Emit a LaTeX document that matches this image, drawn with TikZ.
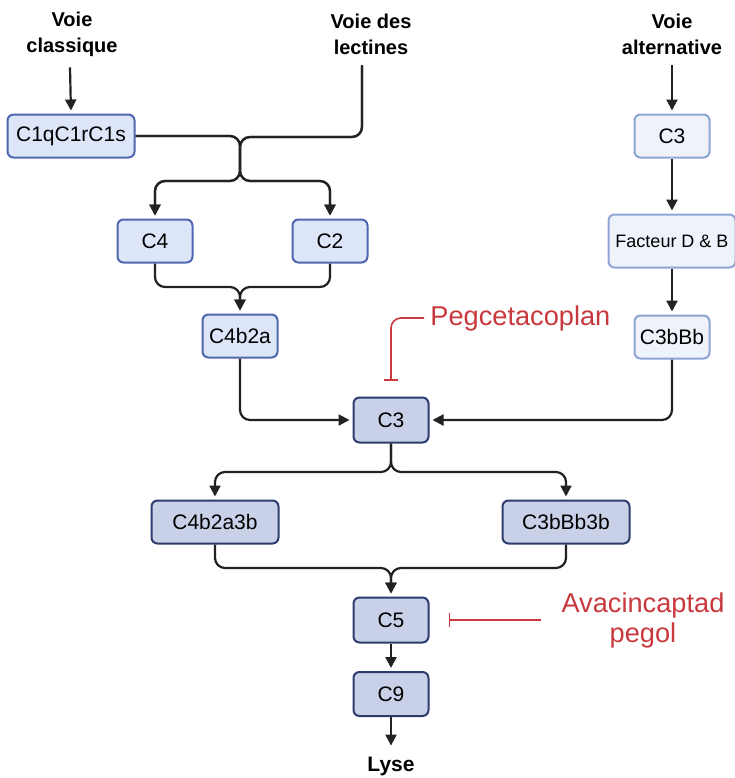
\documentclass[tikz,border=0pt]{standalone}
\usepackage{fontspec}
\setmainfont{Liberation Sans}
\usetikzlibrary{arrows.meta}

\definecolor{lineBlack}{HTML}{222222}
\definecolor{paleFill}{HTML}{EEF3FB}
\definecolor{paleLine}{HTML}{8FA5D6}
\definecolor{midFill}{HTML}{DDE5F8}
\definecolor{midLine}{HTML}{4F66B0}
\definecolor{deepFill}{HTML}{C9D1E8}
\definecolor{deepLine}{HTML}{2D3C6C}
\definecolor{drugRed}{HTML}{C8383C}

\begin{document}
\begin{tikzpicture}[x=0.5pt,y=-0.5pt]

    \tikzset{
      box/.style={
        draw,
        rounded corners=3pt,
        line width=1pt,
        inner sep=0pt,
        minimum width=37.5pt,
        minimum height=21.5pt,
        font=\fontsize{10.5}{12}\selectfont,
      },
      wide/.style={minimum width=63.5pt},
      pale/.style={box, fill=paleFill, draw=paleLine},
      mid/.style={box, fill=midFill, draw=midLine},
      deep/.style={box, fill=deepFill, draw=deepLine},
      title/.style={font=\bfseries\fontsize{10}{13}\selectfont, align=center, inner sep=0pt, outer sep=5.5pt},
      conn/.style={draw=lineBlack, line width=1.1pt, rounded corners=5pt, -{Triangle[width=5.5pt,length=5.5pt]}, shorten >=1.5pt},
      inhib/.style={draw=drugRed, line width=0.8pt, rounded corners=5pt, -{Bar[width=7pt]}},
      drug/.style={text=drugRed, font=\fontsize{13.6}{15}\selectfont, align=center, inner sep=0pt},
    }
    \useasboundingbox (0,0) rectangle (735,778);

    % pathway titles
    \node[title] (vcla) at (72,34) {Voie\\classique};
    \node[title] (vlec) at (371,34) {Voie des\\lectines};
    \node[title] (valt) at (672,34) {Voie\\alternative};

    % classical / lectin side
    \node[mid, wide] (c1q) at (71,136) {C1qC1rC1s};
    \node[mid] (c4) at (155,241) {C4};
    \node[mid] (c2) at (330,241) {C2};
    \node[mid] (c4b2a) at (240,336) {C4b2a};

    % alternative side
    \node[pale] (c3alt) at (672,136) {C3};
    \node[pale, wide, minimum height=26.5pt, font=\fontsize{9}{11}\selectfont] (facdb) at (672,241) {Facteur D \& B};
    \node[pale] (c3bbb) at (672,337) {C3bBb};

    % common part
    \node[deep, minimum height=22.5pt] (c3) at (391,420) {C3};
    \node[deep, wide] (c4b2a3b) at (215,522) {C4b2a3b};
    \node[deep, wide] (c3bbb3b) at (566,522) {C3bBb3b};
    \node[deep, minimum height=22.5pt] (c5) at (391,620) {C5};
    \node[deep, minimum height=22pt] (c9) at (391,694) {C9};
    \node[title, font=\bfseries\fontsize{10.5}{12}\selectfont, outer sep=4pt] (lyse) at (391,766) {Lyse};

    % junctions
    \coordinate (j1) at (240,137);
    \coordinate (s1) at (240,181);
    \coordinate (m1) at (240,287);
    \coordinate (s2) at (391,472);
    \coordinate (m2) at (391,568);

    \draw[conn] ([xshift=-1pt]vcla.south) -- (c1q.north);
    \foreach \dst in {c4,c2} {
      \draw[conn] (c1q.east) -| (s1) -| (\dst.north);
      \draw[conn] ([xshift=-4.5pt]vlec.south) |- (j1) -- (s1) -| (\dst.north);
    }
    \foreach \src in {c4,c2}
      \draw[conn] (\src.south) |- (m1) -- (c4b2a.north);
    \draw[conn] (c4b2a.south) |- (c3.west);

    \draw[conn] (valt.south) -- (c3alt.north);
    \draw[conn] (c3alt.south) -- (facdb.north);
    \draw[conn] (facdb.south) -- (c3bbb.north);
    \draw[conn] (c3bbb.south) |- (c3.east);

    \foreach \dst in {c4b2a3b,c3bbb3b}
      \draw[conn] (c3.south) -- (s2) -| (\dst.north);
    \foreach \src in {c4b2a3b,c3bbb3b}
      \draw[conn] (\src.south) |- (m2) -- (c5.north);
    \draw[conn] (c5.south) -- (c9.north);
    \draw[conn] (c9.south) -- (lyse.north);

    % inhibitors
    \node[drug, anchor=west] (peg) at (430,318) {Pegcetacoplan};
    \node[drug] (avac) at (643,620) {Avacincaptad\\pegol};
    \draw[inhib] ([xshift=-3pt]peg.west) -| ([yshift=8pt]c3.north);
    \draw[inhib] ([xshift=-10pt]avac.west) -- ([xshift=9.5pt]c5.east);

\end{tikzpicture}
\end{document}
